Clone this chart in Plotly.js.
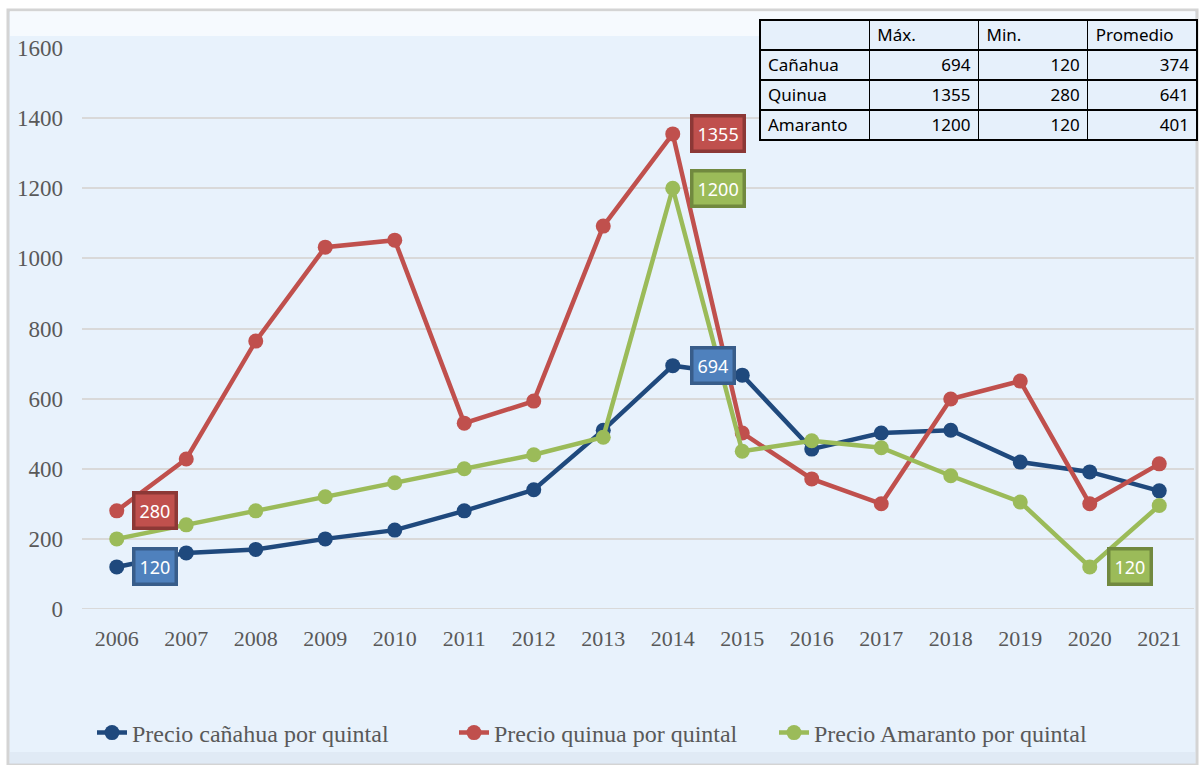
<!DOCTYPE html>
<html><head><meta charset="utf-8">
<script src="https://cdn.plot.ly/plotly-3.0.1.min.js"></script>
<style>html,body{margin:0;padding:0;background:#fff}#chart{width:1199px;height:765px}</style>
</head><body><div id="chart"></div>
<script>
const years = [2006,2007,2008,2009,2010,2011,2012,2013,2014,2015,2016,2017,2018,2019,2020,2021];
const canahua = [120,160,170,200,225,280,340,510,694,667,456,502,510,419,391,337];
const quinua = [280,428,764,1032,1052,530,593,1092,1355,502,371,300,599,650,300,414];
const amaranto = [200,240,280,320,360,400,440,490,1200,450,480,460,380,305,120,295];
const seriesNames = ['Precio cañahua por quintal','Precio quinua por quintal','Precio Amaranto por quintal'];
const tableHeader = ['', 'Máx.', 'Min.', 'Promedio'];
const tableRows = ['Cañahua','Quinua','Amaranto'];
const tableMax = [694,1355,1200];
const tableMin = [120,280,120];
const tableAvg = [374,641,401];
const yTicks = [0,200,400,600,800,1000,1200,1400,1600];

const colors = ['#1f497d','#c0504d','#9bbb59'];
const lblFill = ['#4f81bd','#c0504d','#9bbb59'];
const lblBorder = ['#385d8a','#8c3836','#71893f'];

const W=1199,H=765,L=82,R=2,T=10,B=156;
const pw=W-L-R, ph=H-T-B;
const px=v=>(v-L)/pw, py=v=>(H-B-v)/ph;
const legendIds=['legend','legend2','legend3'];
const legendX=[100,462,782];

function line(y,i){
  return {type:'scatter',mode:'lines+markers',x:years,y:y,name:seriesNames[i],legend:legendIds[i],
    line:{color:colors[i],width:4.5},marker:{color:colors[i],size:15},cliponaxis:false};
}
const traces=[line(canahua,0),line(quinua,1),line(amaranto,2)];
traces.push({type:'table',domain:{x:[px(760),1],y:[py(142),py(20)]},columnwidth:[1,1,1,1],
  header:{values:tableHeader,height:30,align:'left',fill:{color:'#e6f0fb'},line:{color:'#000',width:1.2},
    font:{family:'Noto Sans',size:17,color:'#000'}},
  cells:{values:[tableRows,tableMax,tableMin,tableAvg],height:30,align:['left','right','right','right'],
    fill:{color:'#e6f0fb'},line:{color:'#000',width:1.2},font:{family:'Noto Sans',size:17,color:'#000'}}
});

function lab(series,idx,si){
  const data=[canahua,quinua,amaranto][series];
  return {x:years[idx],y:data[idx],xref:'x',yref:'y',text:String(data[idx]),showarrow:false,
    xshift:si, bgcolor:lblFill[series],bordercolor:lblBorder[series],borderwidth:3.5,borderpad:4,
    font:{family:'Noto Sans',size:18,color:'#fff'}};
}
const annotations=[
  lab(1,0,38), lab(0,0,38),
  lab(1,quinua.indexOf(Math.max(...quinua)),45),
  lab(2,amaranto.indexOf(Math.max(...amaranto)),45),
  lab(0,canahua.indexOf(Math.max(...canahua)),40),
  lab(2,amaranto.indexOf(Math.min(...amaranto)),40)
];

const layout={
  width:W,height:H,margin:{l:L,r:R,t:T,b:B},
  paper_bgcolor:'#ffffff',plot_bgcolor:'rgba(0,0,0,0)',
  showlegend:true,
  xaxis:{domain:[0,px(1194)],range:[2005.5,2021.5],tickvals:years,ticktext:years.map(String),
    showgrid:false,zeroline:false,showline:false,ticks:'',ticklabelstandoff:14,
    tickfont:{family:'Liberation Serif',size:22,color:'#595959'}},
  yaxis:{domain:[0,py(48)],range:[0,1600],tickvals:yTicks,showgrid:true,gridcolor:'#d9d9d9',gridwidth:2,
    zeroline:false,showline:false,ticks:'',ticklabelstandoff:18,
    tickfont:{family:'Liberation Serif',size:23,color:'#595959'}},
  shapes:[
    {type:'rect',xref:'paper',yref:'paper',x0:px(8),x1:px(1197),y0:py(765),y1:py(10),layer:'below',
      fillcolor:'#e8f2fc',line:{color:'#d4d4d4',width:3}},
    {type:'rect',xref:'paper',yref:'paper',x0:px(10),x1:px(1195),y0:py(36),y1:py(11),layer:'below',
      fillcolor:'rgba(255,255,255,0.6)',line:{width:0}},
    {type:'rect',xref:'paper',yref:'paper',x0:px(10),x1:px(1195),y0:py(764),y1:py(752),layer:'below',
      fillcolor:'rgba(205,214,228,0.3)',line:{width:0}},
    {type:'line',xref:'paper',yref:'y',x0:0,x1:px(1194),y0:0,y1:0,layer:'below',line:{color:'#d9d9d9',width:2}}
  ],
  annotations:annotations
};
legendIds.forEach((id,i)=>{
  layout[id]={orientation:'h',x:px(legendX[i]-8),xanchor:'left',y:py(733),yanchor:'middle',
    font:{family:'Liberation Serif',size:24,color:'#595959'},bgcolor:'rgba(0,0,0,0)'};
});
Plotly.newPlot('chart',traces,layout,{displayModeBar:false,staticPlot:true});
</script></body></html>
